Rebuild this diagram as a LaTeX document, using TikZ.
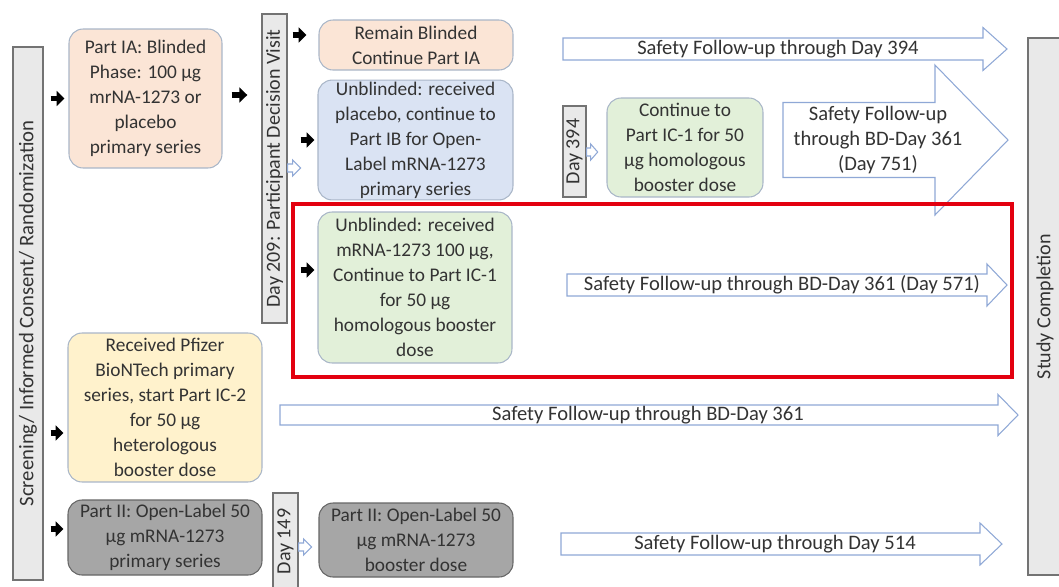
\documentclass[tikz,border=0pt]{standalone}
\usepackage{fontspec}
\setmainfont{Carlito}
\usetikzlibrary{arrows.meta}

\definecolor{peach}{HTML}{FBE5D6}
\definecolor{lblue}{HTML}{DAE3F3}
\definecolor{lgreen}{HTML}{E2F0D9}
\definecolor{lyellow}{HTML}{FFF2CC}
\definecolor{dgray}{HTML}{A6A6A6}
\definecolor{barfill}{HTML}{E9E9E9}
\definecolor{boxline}{HTML}{A9B6C8}
\definecolor{arrowline}{HTML}{8FA8D6}
\definecolor{txt}{HTML}{333333}
\definecolor{frame}{HTML}{E3000F}

\tikzset{
  box/.style={draw=boxline, line width=0.6pt, rounded corners=0.28cm, align=center, inner sep=1pt,
    font=\fontsize{11}{14.2}\selectfont},
  graybox/.style={box, draw=gray!80!black, fill=dgray},
  bar/.style={draw=gray!90!black, fill=barfill, line width=0.8pt, inner sep=0pt,
    font=\fontsize{11.4}{14}\selectfont},
  blk/.style={black, line width=3pt, -{Triangle[length=4.5pt,width=8.5pt]}},
  farrow/.style={draw=arrowline, fill=white, line width=0.6pt},
  lbl/.style={inner sep=0pt, align=center, font=\fontsize{11.7}{14.2}\selectfont}
}

% hollow arrow: start, length, shaft half, head half, head length
\newcommand{\harrow}[5]{%
  \draw[farrow] #1 ++(0,-#3) -- ++(#2-#5,0) -- ++(0,#3-#4) -- ++(#5,#4)
    -- ++(-#5,#4) -- ++(0,#3-#4) -- ++(-#2+#5,0) -- cycle;}

\begin{document}
\begin{tikzpicture}[x=0.02cm, y=-0.02cm, text=txt]
\useasboundingbox (0,0) rectangle (1059,586);

% follow-up arrows
\harrow{(563,49)}{444}{11}{21.5}{24}
\harrow{(783,140)}{225}{37.5}{75}{73}
\harrow{(567,285)}{440}{11}{21}{20}
\harrow{(280,415)}{738}{10}{20.5}{20}
\harrow{(561,544)}{441}{11}{21}{22}
\node[lbl] (t394) at (778,49) {Safety Follow-up through Day 394};
\node[lbl] (t751) at (878,140) {Safety Follow-up\\through BD-Day 361\\(Day 751)};
\node[lbl] (t571) at (782,285) {Safety Follow-up through BD-Day 361 (Day 571)};
\node[lbl] (t361) at (648,415) {Safety Follow-up through BD-Day 361};
\node[lbl] (t514) at (775,544) {Safety Follow-up through Day 514};

% vertical bars
\node[bar, minimum width=0.6cm, minimum height=10.66cm, font=\fontsize{11.8}{14}\selectfont] (scr) at (28,313.5)
  {\rotatebox{90}{Screening/ Informed Consent/ Randomization}};
\node[bar, minimum width=0.68cm, minimum height=10.74cm] (stud) at (1045,306.5)
  {\rotatebox{90}{Study Completion}};
\node[bar, minimum width=0.5cm, minimum height=6.18cm] (d209) at (274.5,168.5)
  {\rotatebox{90}{Day 209: Participant Decision Visit}};
\node[bar, minimum width=0.46cm, minimum height=1.82cm] (d394) at (574.5,151.5)
  {\rotatebox{90}{Day 394}};
\node[bar, minimum width=0.5cm, minimum height=1.94cm] (d149) at (285.5,541.5)
  {\rotatebox{90}{Day 149}};

% boxes
\node[box, fill=peach, minimum width=3.06cm, minimum height=2.78cm] (ia) at (145.5,98.5)
  {Part IA: Blinded\\Phase: 100 µg\\mrNA-1273 or\\placebo\\primary series};
\node[box, fill=peach, minimum width=3.88cm, minimum height=1.0cm] (remain) at (416,45)
  {Remain Blinded\\Continue Part IA};
\node[box, fill=lblue, minimum width=3.9cm, minimum height=2.32cm] (plac) at (415.5,140)
  {Unblinded: received\\placebo, continue to\\Part IB for Open-\\Label mRNA-1273\\primary series};
\node[box, fill=lgreen, minimum width=3.88cm, minimum height=3.02cm] (mrna) at (415,287.5)
  {Unblinded: received\\mRNA-1273 100 µg,\\Continue to Part IC-1\\for 50 µg\\homologous booster\\dose};
\node[box, fill=lgreen, minimum width=3.12cm, minimum height=1.98cm] (ic1) at (685,147.5)
  {Continue to\\Part IC-1 for 50\\µg homologous\\booster dose};
\node[box, fill=lyellow, minimum width=3.88cm, minimum height=2.98cm] (pfz) at (165,407.5)
  {Received Pfizer\\BioNTech primary\\series, start Part IC-2\\for 50 µg\\heterologous\\booster dose};
\node[graybox, minimum width=3.88cm, minimum height=1.5cm] (p2a) at (165,537.5)
  {Part II: Open-Label 50\\µg mRNA-1273\\primary series};
\node[graybox, minimum width=3.88cm, minimum height=1.48cm] (p2b) at (416,540)
  {Part II: Open-Label 50\\µg mRNA-1273\\booster dose};

% small hollow arrows
\harrow{(d209.east |- 0,168)}{13}{4}{8}{8}
\harrow{(d394.east |- 0,152)}{11}{4}{8}{7}
\harrow{(d149.east |- 0,547)}{13}{4}{8}{8}

% black arrows
\draw[blk, shorten <=0.14cm, shorten >=0.08cm] (scr.east |- ia.west) -- (ia.west);
\draw[blk, shorten <=0.14cm, shorten >=0.08cm] (scr.east |- 0,433) -- (pfz.west |- 0,433);
\draw[blk, shorten <=0.14cm, shorten >=0.08cm] (scr.east |- 0,529) -- (p2a.west |- 0,529);
\draw[blk, shorten <=0.18cm, shorten >=0.28cm] (ia.east |- 0,95) -- (d209.west |- 0,95);
\draw[blk, shorten <=0.1cm, shorten >=0.24cm] (d209.east |- 0,35) -- (remain.west |- 0,35);
\draw[blk, shorten <=0.26cm, shorten >=0.06cm] (d209.east |- 0,140) -- (plac.west);
\draw[blk, shorten <=0.26cm, shorten >=0.06cm] (d209.east |- 0,270) -- (mrna.west |- 0,270);

% highlight
\draw[frame, line width=2.2pt] (293,204) rectangle (1012,377);
\end{tikzpicture}
\end{document}
